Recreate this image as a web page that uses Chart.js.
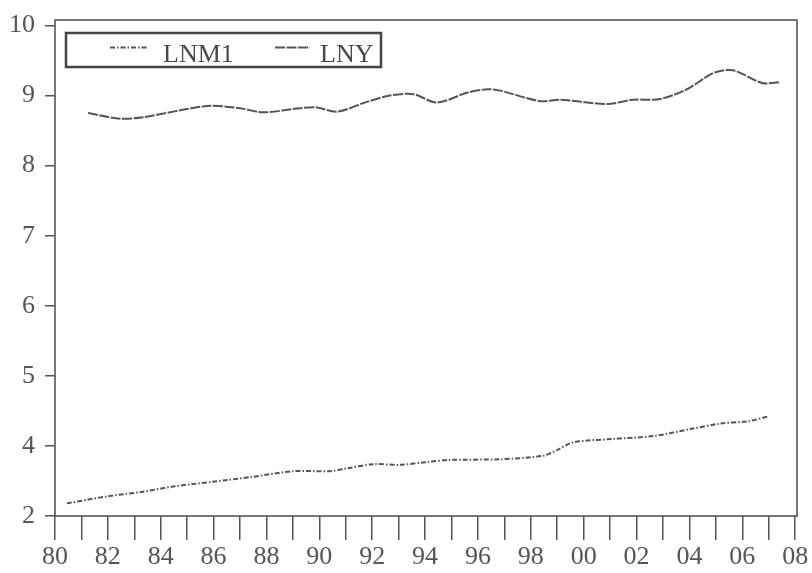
<!DOCTYPE html>
<html>
<head>
<meta charset="utf-8">
<script src="https://cdn.jsdelivr.net/npm/chart.js@4/dist/chart.umd.min.js"></script>
<style>
  html, body { margin: 0; padding: 0; background: #fff; }
  #wrap { position: relative; width: 812px; height: 573px; }
  #chart { position: absolute; left: 0; top: 0; }
  #legend { position: absolute; left: 0; top: 0; pointer-events: none; }
  #legend text { font-family: "Liberation Serif", "Times New Roman", serif; font-size: 26px; fill: #4a4a4a; }
</style>
</head>
<body>
<div id="wrap">
  <canvas id="chart" width="812" height="573"></canvas>
  <svg id="legend" width="812" height="573">
    <rect x="66" y="33" width="315" height="34" fill="#fff" stroke="#454545" stroke-width="2.5"/>
    <line x1="110" y1="47.5" x2="147" y2="47.5" stroke="#555" stroke-width="2" stroke-dasharray="5 2 1.5 2"/>
    <text x="163" y="62">LNM1</text>
    <line x1="275" y1="47.5" x2="310" y2="47.5" stroke="#555" stroke-width="2" stroke-dasharray="10 1.5"/>
    <text x="320" y="62">LNY</text>
  </svg>
</div>
<script>
// ---- data ----
const lnm1Years  = [1980.45,1981.97,1983.22,1984.46,1985.98,1987.49,1989.00,1990.40,1991.05,1992.03,1993.05,1994.07,1994.95,1996.84,1998.46,1998.99,1999.60,2001.11,2002.62,2004.03,2005.16,2006.18,2006.98];
const lnm1Values = [3.18,3.28,3.34,3.42,3.49,3.56,3.64,3.64,3.68,3.74,3.73,3.77,3.80,3.81,3.86,3.94,4.05,4.10,4.14,4.24,4.32,4.35,4.42];
const lnyYears   = [1981.25,1982.46,1983.33,1985.75,1987.00,1987.87,1989.27,1989.91,1990.67,1991.80,1992.67,1993.55,1994.45,1995.59,1996.38,1996.84,1998.35,1999.11,2000.89,2001.87,2002.89,2003.91,2004.90,2005.65,2006.75,2007.43];
const lnyValues  = [8.75,8.67,8.69,8.85,8.82,8.76,8.82,8.83,8.77,8.91,9.00,9.02,8.90,9.04,9.09,9.07,8.92,8.94,8.88,8.94,8.95,9.09,9.32,9.36,9.18,9.19];

// tick positions and the labels printed on the reference
const yTickValues = [3,4,5,6,7,8,9,10];
const yTickLabels = ['2','4','5','6','7','8','9','10'];
const xTickYears  = [1980,1981,1982,1983,1984,1985,1986,1987,1988,1989,1990,1991,1992,1993,1994,1995,1996,1997,1998,1999,2000,2001,2002,2003,2004,2005,2006,2007,2008];
const xLabelYears = [1980,1982,1984,1986,1988,1990,1992,1994,1996,1998,2000,2002,2004,2006,2008];
const xLabelTexts = ['80','82','84','86','88','90','92','94','96','98','00','02','04','06','08'];

const toPoints = (xs, ys) => xs.map((x, i) => ({ x: x, y: ys[i] }));

const frame = {
  id: 'frame',
  afterDraw(chart) {
    const a = chart.chartArea, ctx = chart.ctx;
    ctx.save();
    ctx.strokeStyle = '#555';
    ctx.lineWidth = 1.6;
    ctx.strokeRect(a.left, a.top, a.right - a.left, a.bottom - a.top);
    ctx.restore();
  }
};

const tickFont = { family: '"Liberation Serif", "Times New Roman", serif', size: 26 };

new Chart(document.getElementById('chart'), {
  type: 'line',
  data: {
    datasets: [
      {
        label: 'LNM1',
        data: toPoints(lnm1Years, lnm1Values),
        borderColor: '#555',
        borderWidth: 2,
        borderDash: [5, 2, 1.5, 2],
        pointRadius: 0,
        tension: 0.3,
        fill: false
      },
      {
        label: 'LNY',
        data: toPoints(lnyYears, lnyValues),
        borderColor: '#555',
        borderWidth: 2,
        borderDash: [10, 1.5],
        pointRadius: 0,
        tension: 0.3,
        fill: false
      }
    ]
  },
  options: {
    responsive: false,
    animation: false,
    layout: { padding: { top: 20, right: 15, left: 0, bottom: 0 } },
    plugins: { legend: { display: false }, tooltip: { enabled: false } },
    scales: {
      x: {
        type: 'linear',
        min: 1980,
        max: 2008.07,
        afterBuildTicks: s => { s.ticks = xTickYears.map(v => ({ value: v })); },
        afterFit: s => { s.height = 57; s.paddingLeft = 0; s.paddingRight = 0; },
        border: { display: false },
        grid: { drawOnChartArea: false, drawTicks: true, tickLength: 24, color: '#555', lineWidth: 1.5 },
        ticks: {
          autoSkip: false,
          maxRotation: 0,
          padding: 2,
          color: '#555',
          font: tickFont,
          callback: v => { const i = xLabelYears.indexOf(v); return i >= 0 ? xLabelTexts[i] : ''; }
        }
      },
      y: {
        type: 'linear',
        min: 3,
        max: 10.078,
        afterBuildTicks: s => { s.ticks = yTickValues.map(v => ({ value: v })); },
        afterFit: s => { s.width = 55; s.paddingTop = 0; s.paddingBottom = 0; },
        border: { display: false },
        grid: { drawOnChartArea: false, drawTicks: true, tickLength: 10, color: '#555', lineWidth: 1.5 },
        ticks: {
          padding: 10,
          color: '#555',
          font: tickFont,
          callback: v => { const i = yTickValues.indexOf(v); return i >= 0 ? yTickLabels[i] : ''; }
        }
      }
    }
  },
  plugins: [frame]
});
</script>
</body>
</html>
